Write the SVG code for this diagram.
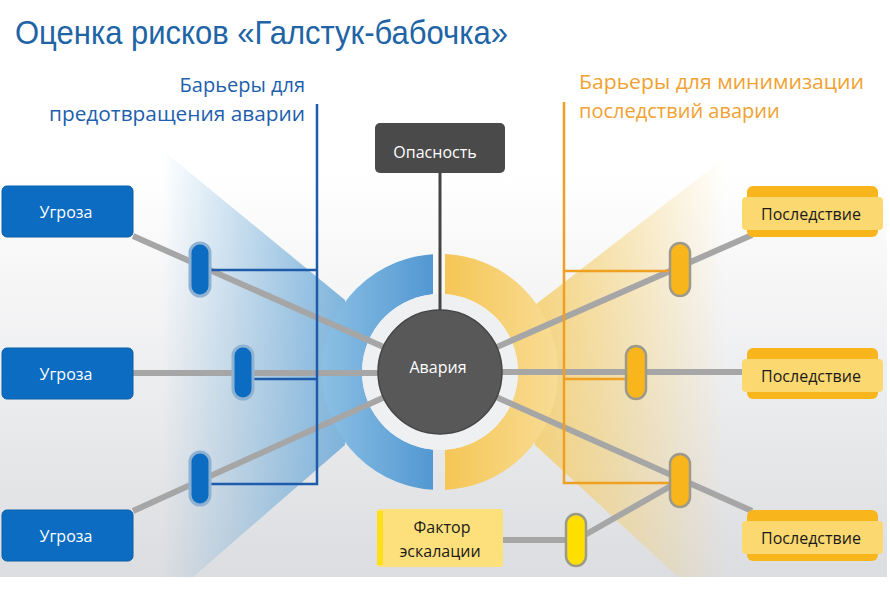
<svg xmlns="http://www.w3.org/2000/svg" width="890" height="594" viewBox="0 0 890 594">
<defs>
<linearGradient id="bg" x1="0" y1="0" x2="0" y2="1">
<stop offset="0" stop-color="#ffffff"/>
<stop offset="0.3" stop-color="#ffffff"/>
<stop offset="1" stop-color="#dcdde0"/>
</linearGradient>
<linearGradient id="wedgeL" gradientUnits="userSpaceOnUse" x1="162" y1="0" x2="345" y2="0">
<stop offset="0" stop-color="#6aa9d8" stop-opacity="0"/>
<stop offset="1" stop-color="#6aa9d8" stop-opacity="0.85"/>
</linearGradient>
<linearGradient id="wedgeR" gradientUnits="userSpaceOnUse" x1="535" y1="0" x2="725" y2="0">
<stop offset="0" stop-color="#f6cc62" stop-opacity="0.8"/>
<stop offset="1" stop-color="#f6cc62" stop-opacity="0"/>
</linearGradient>
<linearGradient id="arcL" gradientUnits="userSpaceOnUse" x1="322" y1="0" x2="433" y2="0">
<stop offset="0" stop-color="#8cc0e4"/>
<stop offset="1" stop-color="#5298d2"/>
</linearGradient>
<linearGradient id="arcR" gradientUnits="userSpaceOnUse" x1="445" y1="0" x2="558" y2="0">
<stop offset="0" stop-color="#f5c655"/>
<stop offset="1" stop-color="#f8dc96"/>
</linearGradient>
<clipPath id="clipL"><rect x="300" y="230" width="133" height="290"/></clipPath>
<clipPath id="clipR"><rect x="445" y="230" width="133" height="290"/></clipPath>
<style>
.threat{fill:#0b6cc1;stroke:#0a5fa8;stroke-width:1}
.tt{font-family:"Open Sans","Noto Sans","DejaVu Sans",sans-serif;font-size:16px;fill:#ffffff;text-anchor:middle}
.ct{font-family:"Open Sans","Noto Sans","DejaVu Sans",sans-serif;font-size:16px;fill:#1a1a1a;text-anchor:middle}
.conn{stroke:#a6a6a6;stroke-width:6;fill:none}
.bl{stroke:#1f5bab;stroke-width:2.5;fill:none}
.ol{stroke:#f0a020;stroke-width:2.5;fill:none}
.pillB{fill:#0b6cc1;stroke:#8fb2d2;stroke-width:3}
.pillO{fill:#f8b61c;stroke:#9d9a8c;stroke-width:2.5}
.pillY{fill:#ffdf00;stroke:#9d9a8c;stroke-width:2.5}
.cOut{fill:#f8b61c}
.cIn{fill:#fbd870}
</style>
</defs>

<rect x="0" y="0" width="887" height="577" fill="url(#bg)"/>

<g id="bowtie">
<polygon points="345,300 150,140 150,577 193,577 345,445" fill="url(#wedgeL)"/>
<polygon points="535,305 735,150 735,577 678,577 535,445" fill="url(#wedgeR)"/>
<circle cx="440" cy="372" r="98" fill="none" stroke="url(#arcL)" stroke-width="40" clip-path="url(#clipL)"/>
<circle cx="440" cy="372" r="98" fill="none" stroke="url(#arcR)" stroke-width="40" clip-path="url(#clipR)"/>
<circle cx="440" cy="372" r="78" fill="#eef0f2"/>
</g>

<g id="title">
<text x="15" y="44" font-family="'Liberation Sans',Arial,sans-serif" font-size="34" fill="#2064a6" textLength="493" lengthAdjust="spacingAndGlyphs">Оценка рисков «Галстук-бабочка»</text>
</g>

<g id="header-left" font-family="'Open Sans','Noto Sans',sans-serif" font-size="20" fill="#1e5fae" text-anchor="end">
<text x="305" y="92">Барьеры для</text>
<text x="305" y="121" textLength="256" lengthAdjust="spacingAndGlyphs">предотвращения аварии</text>
</g>
<g id="header-right" font-family="'Open Sans','Noto Sans',sans-serif" font-size="20" fill="#f0a232">
<text x="579" y="89" textLength="285" lengthAdjust="spacingAndGlyphs">Барьеры для минимизации</text>
<text x="579" y="118">последствий аварии</text>
</g>

<g id="connectors">
<line class="conn" x1="133" y1="236" x2="440" y2="372"/>
<line class="conn" x1="133" y1="373" x2="440" y2="373"/>
<line class="conn" x1="133" y1="511" x2="440" y2="372"/>
<line class="conn" x1="440" y1="372" x2="752" y2="235"/>
<line class="conn" x1="440" y1="372" x2="747" y2="372"/>
<line class="conn" x1="440" y1="372" x2="752" y2="511"/>
<line class="conn" x1="503" y1="540" x2="576" y2="540"/>
<line class="conn" x1="576" y1="540" x2="676" y2="483"/>
<line x1="440" y1="173" x2="440" y2="312" stroke="#444444" stroke-width="3"/>
<path class="bl" d="M317,104 V484 H208 M317,270 H208 M317,379 H252"/>
<path class="ol" d="M564,102 V483 H670 M564,271 H670 M564,379 H627"/>
</g>

<g id="barrier-l1"><rect class="pillB" x="190" y="243" width="20" height="53" rx="10"/></g>
<g id="barrier-l2"><rect class="pillB" x="233" y="346" width="20" height="53" rx="10"/></g>
<g id="barrier-l3"><rect class="pillB" x="190" y="452" width="20" height="53" rx="10"/></g>
<g id="barrier-r1"><rect class="pillO" x="670" y="243" width="20" height="53" rx="10"/></g>
<g id="barrier-r2"><rect class="pillO" x="626" y="346" width="20" height="53" rx="10"/></g>
<g id="barrier-r3"><rect class="pillO" x="670" y="454" width="20" height="53" rx="10"/></g>
<g id="barrier-esc"><rect class="pillY" x="566" y="514" width="20" height="52" rx="10"/></g>

<g id="hazard">
<rect x="375" y="123" width="130" height="50" rx="5" fill="#4a4a4a"/>
<text class="tt" x="435" y="158">Опасность</text>
</g>

<g id="event">
<circle cx="440" cy="372" r="62" fill="#585858" stroke="#454545" stroke-width="1.5"/>
<text class="tt" x="438" y="373">Авария</text>
</g>

<g id="threat1"><rect class="threat" x="2" y="186" width="131" height="51" rx="5"/><text class="tt" x="66" y="218">Угроза</text></g>
<g id="threat2"><rect class="threat" x="2" y="348" width="131" height="51" rx="5"/><text class="tt" x="66" y="380">Угроза</text></g>
<g id="threat3"><rect class="threat" x="2" y="510" width="131" height="51" rx="5"/><text class="tt" x="66" y="542">Угроза</text></g>

<g id="consequence1"><rect class="cOut" x="747" y="186" width="131" height="51" rx="6"/><rect class="cIn" x="742" y="197" width="141" height="33" rx="4"/><text class="ct" x="811" y="220">Последствие</text></g>
<g id="consequence2"><rect class="cOut" x="747" y="348" width="131" height="51" rx="6"/><rect class="cIn" x="742" y="359" width="141" height="33" rx="4"/><text class="ct" x="811" y="382">Последствие</text></g>
<g id="consequence3"><rect class="cOut" x="747" y="510" width="131" height="51" rx="6"/><rect class="cIn" x="742" y="521" width="141" height="33" rx="4"/><text class="ct" x="811" y="544">Последствие</text></g>

<g id="escalation">
<rect x="377" y="509" width="126" height="58" rx="3" fill="#fde07c"/>
<rect x="377" y="511" width="6" height="54" fill="#ffdf1a"/>
<text class="ct" x="442" y="533">Фактор</text>
<text class="ct" x="440" y="557">эскалации</text>
</g>
</svg>
